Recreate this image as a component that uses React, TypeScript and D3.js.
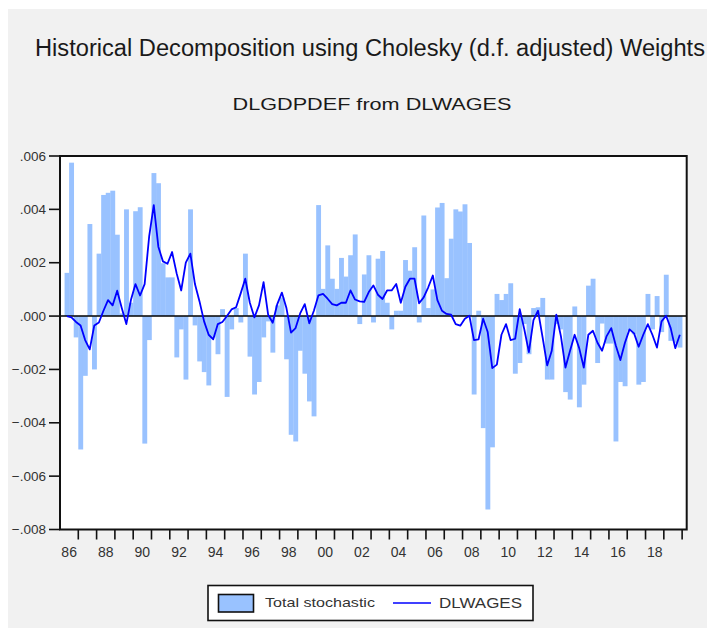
import React from 'react';
import * as d3 from 'd3';

// Quarterly observations, first one is 1986Q2
const startYear = 1986;
const firstSlot = 1; // quarter index of the first observation (1986Q1 = 0)

const totalStochastic = [
  0.00162, 0.00575, -0.0008, -0.005, -0.00224, 0.00345, -0.002, 0.00234, 0.00454, 0.00462,
  0.0047, 0.00305, 0.0001, 0.004, 0.0005, 0.00393, 0.00408, -0.00478, -0.0009, 0.00536,
  0.00498, 0.00198, 0.00145, 0.00145, -0.00155, -0.0005, -0.00238, 0.004, -0.00035, -0.0017,
  -0.0021, -0.0026, -0.0008, -0.00143, 0.00026, -0.00303, -0.0005, 0.0003, -0.00024, 0.00234,
  -0.00152, -0.00294, -0.00247, -0.0008, -0.0002, -0.00137, 0.0004, 0.0007, -0.00162, -0.00445,
  -0.0047, -0.0013, -0.00216, -0.0032, -0.00376, 0.00416, 0.00102, 0.00265, 0.0014, 0.00102,
  0.00218, 0.00148, 0.00228, 0.00306, -0.0003, 0.00156, 0.00228, -0.00024, 0.00215, 0.00244,
  0.0005, -0.0005, 0.0002, 0.0002, 0.0021, 0.0017, 0.00258, -0.00024, 0.00377, 0.0003,
  0.001, 0.00407, 0.00424, 0.00142, 0.0029, 0.004, 0.00392, 0.00419, 0.00274, -0.00294,
  0.0002, -0.0042, -0.00725, -0.00492, 0.00083, 0.0006, 0.00083, 0.00123, -0.00216, -0.00176,
  -0.0003, -0.00143, 0.0003, 0.00033, 0.00068, -0.00238, -0.00238, -0.0003, -0.0005, -0.00285,
  -0.00313, 0.00036, -0.00342, -0.00257, 0.00114, 0.0014, -0.00176, -0.00028, -0.00103, -0.00103,
  -0.0047, -0.00247, -0.00263, -0.00055, -0.00068, -0.00257, -0.00247, 0.00083, -0.0005, 0.00075,
  -0.0006, 0.00155, -0.00093, -0.001, -0.00118,
];

const dlwages = [
  0.0, -0.00005, -0.00022, -0.00035, -0.0009, -0.00125, -0.00035, -0.00024, 0.0002, 0.0006,
  0.0004, 0.00095, 0.0003, -0.0003, 0.0006, 0.0012, 0.00077, 0.0012, 0.003, 0.00416,
  0.0026, 0.00205, 0.00196, 0.0024, 0.0016, 0.00096, 0.002, 0.00234, 0.0012, 0.00055,
  -0.0002, -0.0007, -0.00087, -0.0003, -0.00022, 0.0, 0.00025, 0.00033, 0.00085, 0.0014,
  0.0005, -0.00005, 0.0004, 0.00127, 0.00005, -0.00025, 0.00045, 0.00088, 0.0003, -0.00062,
  -0.00045, 0.0001, 0.00045, -0.00027, 0.0002, 0.00078, 0.00083, 0.00065, 0.00045, 0.0004,
  0.0005, 0.0005, 0.00096, 0.00062, 0.00055, 0.00053, 0.0009, 0.00115, 0.0008, 0.00064,
  0.00096, 0.00096, 0.0012, 0.0005, 0.0011, 0.0014, 0.0014, 0.00048, 0.0007, 0.00108,
  0.00152, 0.0006, 0.0002, 0.00008, 0.00005, -0.0003, -0.00036, -0.0001, 0.00001, -0.0009,
  -0.00087, -0.0001, -0.0006, -0.00195, -0.00182, -0.0007, -0.0003, -0.0009, -0.00085, 0.00026,
  -0.0005, -0.00135, -0.00015, 0.0002, -0.0008, -0.00185, -0.0013, 0.00005, -0.00075, -0.00193,
  -0.0013, -0.0007, -0.0012, -0.00193, -0.0007, -0.00055, -0.001, -0.0013, -0.00075, -0.00045,
  -0.0011, -0.00165, -0.001, -0.0005, -0.00065, -0.00115, -0.0007, -0.0003, -0.0007, -0.00118,
  -0.0002, 0.00001, -0.00045, -0.0012, -0.0007,
];

const yTickValues = [0.006, 0.004, 0.002, 0.0, -0.002, -0.004, -0.006, -0.008];
const yearTicks = d3.range(1987, 2021);
const labelYears = d3.range(1986, 2019, 2);

const titleText = 'Historical Decomposition using Cholesky (d.f. adjusted) Weights';
const subtitleText = 'DLGDPDEF from DLWAGES';
const legendLabels = ['Total stochastic', 'DLWAGES'];

const barColor = '#99c2ff';
const lineColor = '#0000ff';
const font = "'Liberation Sans', Arial, sans-serif";

export default function App() {
  const W = 707;
  const H = 628;
  const left = 60;
  const right = 686.7;
  const top = 156;
  const bottom = 529.5;
  const nSlots = 137;

  const x = d3.scaleLinear().domain([0, nSlots]).range([left, right]);
  const y = d3.scaleLinear().domain([-0.008, 0.006]).range([bottom, top]);

  const line = d3
    .line<number>()
    .x((_, i) => x(firstSlot + i + 0.5))
    .y((d) => y(d));

  const fmt = (v: number) => d3.format('.3f')(v).replace('0.', '.');

  return (
    <svg width={W} height={H} style={{ position: 'absolute', left: 0, top: 0 }} fontFamily={font}>
      <rect x={0} y={0} width={W} height={H} fill="#ffffff" />
      <rect x={8} y={9} width={W - 8} height={H - 9} fill="#f1f1f1" />
      <text x={35} y={56} fontSize={23} fill="#1a1a1a" textLength={670} lengthAdjust="spacingAndGlyphs">
        {titleText}
      </text>
      <text x={372} y={110} fontSize={16.5} fill="#1a1a1a" textAnchor="middle" textLength={279} lengthAdjust="spacingAndGlyphs">
        {subtitleText}
      </text>

      <rect x={left} y={top} width={right - left} height={bottom - top} fill="#ffffff" />

      {totalStochastic.map((v, i) => {
        const x0 = x(firstSlot + i);
        const x1 = x(firstSlot + i + 1);
        const y0 = y(Math.max(0, v));
        const y1 = y(Math.min(0, v));
        return <rect key={i} x={x0} y={y0} width={x1 - x0 + 0.3} height={Math.max(0.5, y1 - y0)} fill={barColor} />;
      })}

      <line x1={left} x2={right} y1={y(0)} y2={y(0)} stroke="#000" strokeWidth={1.6} />
      <path d={line(dlwages) || ''} fill="none" stroke={lineColor} strokeWidth={1.8} strokeLinejoin="round" />

      <rect x={left} y={top} width={right - left} height={bottom - top} fill="none" stroke="#111" strokeWidth={2} />

      {yTickValues.map((v) => (
        <g key={v}>
          <line x1={49} x2={left} y1={y(v)} y2={y(v)} stroke="#111" strokeWidth={1.6} />
          <text x={46} y={y(v) + 4.5} fontSize={13.5} textAnchor="end" fill="#333">
            {fmt(v)}
          </text>
        </g>
      ))}

      {yearTicks.map((yr) => (
        <line key={yr} x1={x((yr - startYear) * 4)} x2={x((yr - startYear) * 4)} y1={bottom} y2={bottom + 10} stroke="#111" strokeWidth={1.6} />
      ))}
      {labelYears.map((yr) => (
        <text key={yr} x={x((yr - startYear) * 4 + 2)} y={557} fontSize={14} textAnchor="middle" fill="#333">
          {String(yr).slice(2)}
        </text>
      ))}

      <g>
        <rect x={208} y={585.5} width={325} height={35} fill="#ffffff" stroke="#111" strokeWidth={1.6} />
        <rect x={218.5} y={594.5} width={35} height={17.5} fill={barColor} stroke="#111" strokeWidth={1.6} />
        <text x={265} y={607} fontSize={13.5} fill="#333" textLength={110} lengthAdjust="spacingAndGlyphs">{legendLabels[0]}</text>
        <line x1={393} x2={431} y1={603} y2={603} stroke={lineColor} strokeWidth={1.6} />
        <text x={439} y={607.5} fontSize={15} fill="#333" textLength={83} lengthAdjust="spacingAndGlyphs">{legendLabels[1]}</text>
      </g>
    </svg>
  );
}
